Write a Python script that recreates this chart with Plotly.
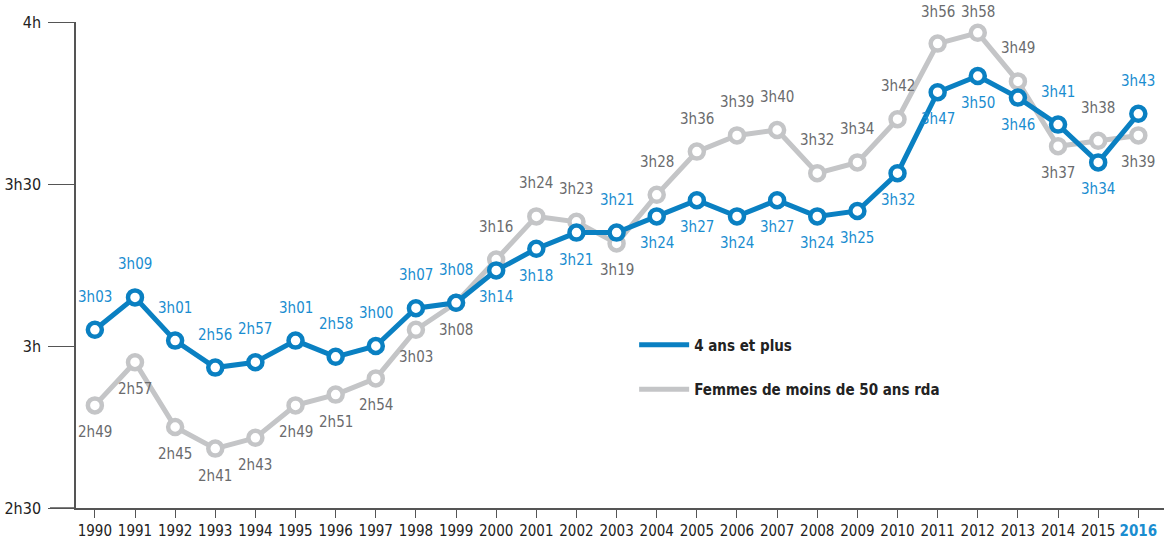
import plotly.graph_objects as go

# durées en minutes
years = [str(y) for y in range(1990, 2017)]
tous = [183, 189, 181, 176, 177, 181, 178, 180, 187, 188, 194, 198, 201, 201,
        204, 207, 204, 207, 204, 205, 212, 227, 230, 226, 221, 214, 223]
femmes = [169, 177, 165, 161, 163, 169, 171, 174, 183, 188, 196, 204, 203, 199,
          208, 216, 219, 220, 212, 214, 222, 236, 238, 229, 217, 218, 219]
# position des étiquettes : 1 = au-dessus, -1 = en dessous
pos_tous = [1] * 10 + [-1, -1, -1, 1] + [-1] * 10 + [1, -1, 1]
pos_femmes = [-1] * 10 + [1, 1, 1, -1] + [1] * 10 + [-1, 1, -1]

y_ticks = [150, 180, 210, 240]
y_labels = ['2h30', '3h', '3h30', '4h']

BLUE = '#0a80c2'
BLUE_TXT = '#1a8dd0'
GREY = '#c4c5c7'
GREY_TXT = '#6a6b6d'
FONT = 'Liberation Sans Narrow, Arial Narrow, DejaVu Sans Condensed, sans-serif'

TOP, PLOT_H = 22, 486
px_per_min = PLOT_H / (240 - 150)


def fmt(m):
    h, mn = divmod(m, 60)
    return '%dh%02d' % (h, mn)


fig = go.Figure()

for name, vals, col in [('Femmes de moins de 50 ans rda', femmes, GREY),
                        ('4 ans et plus', tous, BLUE)]:
    fig.add_trace(go.Scatter(
        x=years, y=vals, mode='lines+markers', showlegend=False,
        line=dict(color=col, width=5),
        marker=dict(size=14, color='white', line=dict(color=col, width=4.5)),
        hoverinfo='skip'))

# traces de légende
fig.add_trace(go.Scatter(x=[None], y=[None], mode='lines', name='4 ans et plus',
                         line=dict(color=BLUE, width=5), legendgroup='a'))
fig.add_trace(go.Scatter(x=[None], y=[None], mode='lines',
                         name='Femmes de moins de 50 ans rda',
                         line=dict(color=GREY, width=5), legendgroup='b'))

for vals, pos, col in [(femmes, pos_femmes, GREY_TXT), (tous, pos_tous, BLUE_TXT)]:
    for i, (v, p) in enumerate(zip(vals, pos)):
        if p > 0:
            # garder l'étiquette dans la page en haut
            room = TOP + (240 - v) * px_per_min - 12
            shift = min(33, max(20, room))
        else:
            shift = -27
        fig.add_annotation(x=i, y=v, text=fmt(v), showarrow=False, yshift=shift,
                           font=dict(size=15, color=col, family=FONT))

ticktext = years[:-1] + ['<b><span style="color:%s">2016</span></b>' % BLUE_TXT]

fig.update_xaxes(type='category', tickvals=years, ticktext=ticktext,
                 range=[-0.47, 26.64], showgrid=False, showline=True,
                 linecolor='#555', linewidth=1.5, ticks='outside', ticklen=8,
                 tickcolor='#555', tickfont=dict(size=15, color='#222', family=FONT))
fig.update_yaxes(range=[150, 240], tickvals=y_ticks, ticktext=y_labels,
                 showgrid=False, showline=True, linecolor='#555', linewidth=1.5,
                 ticks='outside', ticklen=26, tickcolor='#555', zeroline=False,
                 ticklabelstandoff=4,
                 tickfont=dict(size=16, color='#222', family=FONT))

# prolongement de l'axe x sous les graduations de y
fig.add_shape(type='line', xref='paper', yref='paper', x0=-26 / 1088, x1=0,
              y0=0, y1=0, line=dict(color='#555', width=1.5))

fig.update_layout(
    width=1164, height=543,
    margin=dict(l=76, r=0, t=TOP, b=543 - TOP - PLOT_H),
    plot_bgcolor='white', paper_bgcolor='white',
    font=dict(family=FONT),
    legend=dict(x=0.513, y=0.29, xanchor='left', yanchor='middle',
                tracegroupgap=22, itemwidth=50,
                font=dict(size=15, color='#222', family=FONT, weight='bold'),
                bgcolor='rgba(0,0,0,0)'),
)

fig.write_html("out.html", config={'displayModeBar': False},
               post_script="document.body.style.margin='0';")
